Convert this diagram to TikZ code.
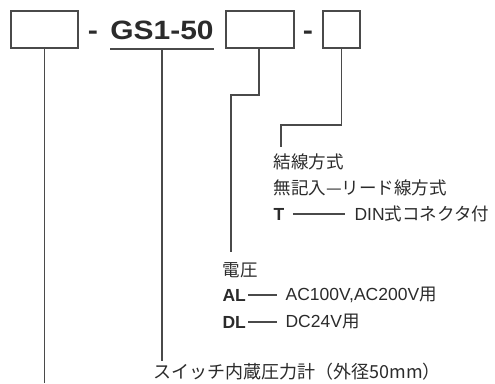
\documentclass[tikz,border=0pt]{standalone}
\usepackage{fontspec}
\setmainfont{Liberation Sans}
\newfontfamily\jp{Noto Sans CJK JP}
\definecolor{tc}{HTML}{2B2B2B}
\definecolor{lc}{HTML}{4A4A4A}
\begin{document}
\begin{tikzpicture}[x=1pt,y=-1pt,line width=1.2pt,
  box/.style={draw=lc,inner sep=0pt,minimum height=37pt},
  txt/.style={anchor=west,inner sep=0pt,text=tc,font=\fontsize{17.5}{20}\selectfont},
  big/.style={anchor=base,inner sep=0pt,text=tc,font=\fontsize{26.5}{30}\selectfont\bfseries},
  conn/.style={draw=lc}]
\useasboundingbox (0,0) rectangle (495,383);
% boxes
\node[box,minimum width=67pt] (b1) at (44.5,29.5) {};
\node[box,minimum width=68pt] (b2) at (260,29.5) {};
\node[box,minimum width=37pt] (b3) at (341.5,29.5) {};
\node[big] (d1) at (93,39.5) {\scalebox{1.15}[1]{-}};
\node[big] (gs) at (162,39.5) {\scalebox{1.13}[1]{GS1-50}};
\node[big] (d2) at (308,39.5) {\scalebox{1.15}[1]{-}};
\coordinate (ul1) at (110,49);
\coordinate (ul2) at (214,49);
\draw[conn] (ul1) -- (ul2);
% wiring block
\node[txt] (wire) at (273,162) {\jp 結線方式};
\node[txt] (none) at (273,188) {\jp 無記入—リード線方式};
\node[txt,font=\fontsize{17.5}{20}\selectfont\bfseries] (T) at (273,214) {T};
\node[txt] (din) at (354,214) {DIN{\jp 式コネクタ付}};
\draw[conn] ([xshift=8pt]T.east) -- ([xshift=-9pt]din.west);
% voltage block
\node[txt] (volt) at (222,270) {\jp 電圧};
\node[txt,font=\fontsize{17.5}{20}\selectfont\bfseries] (AL) at (222,295) {AL};
\node[txt] (ac) at (285,295) {AC100V,AC200V{\jp 用}};
\node[txt,font=\fontsize{17.5}{20}\selectfont\bfseries] (DL) at (222,322) {DL};
\node[txt] (dc) at (285,322) {DC24V{\jp 用}};
\draw[conn] (248,295) -- ([xshift=-8pt]ac.west);
\draw[conn] (248,322) -- ([xshift=-8pt]dc.west);
% gauge
\node[txt,font=\fontsize{18}{20}\selectfont] (gauge) at (153,372) {\jp スイッチ内蔵圧力計（外径50mm）};
% connectors
\coordinate (e1) at (44.5,383);
\coordinate (e2) at (162,361);
\coordinate (k2) at (231,95);
\coordinate (e3) at (231,252);
\coordinate (k3) at (281,125);
\coordinate (e4) at (281,147);
\draw[conn] (b1.south) -- (e1);
\draw[conn] (gs.base |- ul1) -- (e2);
\draw[conn] ([xshift=-1pt]b2.south) |- (k2) -- (e3);
\draw[conn] (b3.south) |- (k3) -- (e4);
\end{tikzpicture}
\end{document}
